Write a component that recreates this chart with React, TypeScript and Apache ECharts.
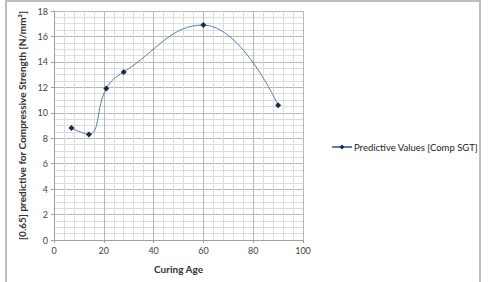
import React, { useEffect, useRef } from "react";
import * as echarts from "echarts";

const curingAge = [7, 14, 21, 28, 60, 90];
const strength = [8.8, 8.3, 11.9, 13.2, 16.9, 10.6];
const seriesName = "Predictive Values [Comp SGT]";

export default function App() {
  const ref = useRef<HTMLDivElement>(null);
  useEffect(() => {
    const chart = echarts.init(ref.current!, undefined, { renderer: "svg" });
    const font = "Lato, 'Open Sans', sans-serif";
    chart.setOption({
      animation: false,
      backgroundColor: "#ffffff",
      graphic: [
        {
          type: "rect",
          shape: { x: 6, y: 1, width: 474, height: 300 },
          style: { fill: "none", stroke: "#bdbdbd", lineWidth: 2 },
          silent: true,
        },
      ],
      grid: { left: 54, top: 11, width: 249, height: 229 },
      legend: {
        left: 326,
        top: 137,
        itemWidth: 20,
        itemHeight: 6,
        itemGap: 2,
        textStyle: { fontFamily: font, fontSize: 9.5, color: "#222", padding: [0, 0, 0, -3] },
        data: [{ name: seriesName }],
      },
      xAxis: {
        type: "value",
        min: 0,
        max: 100,
        interval: 20,
        name: "Curing Age",
        nameLocation: "middle",
        nameGap: 24,
        nameTextStyle: { fontFamily: font, fontSize: 10, fontWeight: "bold", color: "#333" },
        axisLine: { lineStyle: { color: "#a0a0a0" } },
        axisTick: { show: true, length: 3, lineStyle: { color: "#a0a0a0" } },
        axisLabel: { fontFamily: font, fontSize: 9, color: "#444", margin: 6 },
        splitLine: { lineStyle: { color: "#b8b8b8", width: 1 } },
        minorTick: { show: false, splitNumber: 5 },
        minorSplitLine: { show: true, lineStyle: { color: "#dcdcdc", width: 1 } },
      },
      yAxis: {
        type: "value",
        min: 0,
        max: 18,
        interval: 2,
        name: "[0.65] predictive for Compressive Strength [N/mm²]",
        nameLocation: "middle",
        nameGap: 21,
        nameTextStyle: { fontFamily: font, fontSize: 10, fontWeight: "bold", color: "#333" },
        axisLine: { show: true, lineStyle: { color: "#a0a0a0" } },
        axisTick: { show: true, length: 3, lineStyle: { color: "#a0a0a0" } },
        axisLabel: { fontFamily: font, fontSize: 9, color: "#444", margin: 6 },
        splitLine: { lineStyle: { color: "#b8b8b8", width: 1 } },
        minorTick: { show: false, splitNumber: 4 },
        minorSplitLine: { show: true, lineStyle: { color: "#dcdcdc", width: 1 } },
      },
      series: [
        {
          name: seriesName,
          type: "line",
          data: curingAge.map((x, i) => [x, strength[i]]),
          smooth: 0.45,
          symbol: "diamond",
          symbolSize: 6,
          lineStyle: { color: "#5a7fa8", width: 1 },
          itemStyle: { color: "#1a2a4a" },
        },
      ],
    });
    return () => chart.dispose();
  }, []);
  return (
    <div
      ref={ref}
      style={{ position: "absolute", left: 0, top: 0, width: 488, height: 282 }}
    />
  );
}
